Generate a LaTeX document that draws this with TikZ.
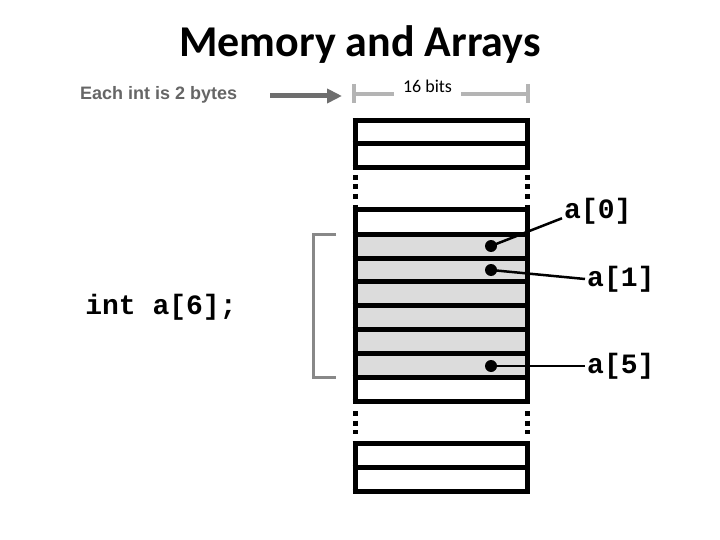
\documentclass[tikz,border=0pt]{standalone}
\usepackage{fontspec}
\setmainfont{Carlito}
\newfontfamily\codefont{Liberation Mono}
\newfontfamily\notefont{Liberation Sans}
\usetikzlibrary{positioning}
\usetikzlibrary{arrows.meta}
\definecolor{cellgray}{HTML}{DCDCDC}
\definecolor{notegray}{HTML}{666666}
\definecolor{arrowgray}{HTML}{6E6E6E}
\definecolor{dimgray}{HTML}{B4B4B4}
\definecolor{bracketgray}{HTML}{888888}

\begin{document}
\begin{tikzpicture}[
    x=1pt, y=-1pt,
    cell line/.style={line width=5pt},
    gap line/.style={line width=5pt, dash pattern=on 5pt off 4.5pt},
    code label/.style={font=\codefont\bfseries\fontsize{28}{30}\selectfont, inner sep=2pt},
    pointer dot/.style={circle, fill=black, inner sep=0pt, minimum size=12pt},
    pointer/.style={line width=2.5pt},
    dim line/.style={dimgray, line width=4pt}
  ]
  \useasboundingbox (0,0) rectangle (720,540);

  \node[anchor=base, font=\bfseries\fontsize{44}{48}\selectfont] (title) at (360,57) {Memory and Arrays};

  % size note and 16 bit width
  \node[anchor=base west, inner sep=0pt, text=notegray, font=\notefont\bfseries\fontsize{18}{20}\selectfont] (sizenote) at (80,100) {Each int is 2 bytes};
  \coordinate (bits left) at (354,94);
  \coordinate (bits right) at (527.5,94);
  \node[inner xsep=9pt, font=\fontsize{18}{20}\selectfont] (bits) at (427.5,86.5) {16 bits};
  \draw[dim line] (354,84) -- (354,103);
  \draw[dim line] (527.5,84) -- (527.5,103);
  \draw[dim line] (bits left) -- (bits.west |- bits left);
  \draw[dim line] (bits.east |- bits right) -- (bits right);
  \coordinate (arrow tail) at (270,96);
  \draw[arrowgray, line width=5pt, -{Triangle[length=15pt,width=14pt]}, shorten >=12pt] (arrow tail) -- (bits left |- arrow tail);

  % memory cells
  \fill[cellgray] (355,234.5) rectangle (527.5,377.5);
  \foreach \y in {120.5,143.5,167.5,209.5,234.5,258.5,281.5,305.5,329.5,353.5,377.5,401.5,443.5,467.5,491.5}
    \draw[cell line] (352.5,\y) -- (530,\y);
  \foreach \x in {355,527.5} {
    \draw[cell line] (\x,118) -- (\x,170);
    \draw[gap line] (\x,175) -- (\x,203);
    \draw[cell line] (\x,205) -- (\x,404);
    \draw[gap line] (\x,411) -- (\x,434);
    \draw[cell line] (\x,441) -- (\x,494);
  }

  % the array
  \draw[bracketgray, line width=3pt] (336,234) -- (313,234) -- (313,377.5) -- (336,377.5);
  \node[code label] (decl) at (161,307) {int a[6];};

  \node[pointer dot] (d0) at (491,246) {};
  \node[pointer dot] (d1) at (491,270) {};
  \node[pointer dot] (d5) at (491,366) {};

  \node[code label, anchor=west] (l0) at (562,211) {a[0]};
  \node[code label, anchor=west] (l1) at (585,279) {a[1]};
  \node[code label, anchor=west] (l5) at (585,366) {a[5]};

  \draw[pointer] (d0.center) -- (l0.base west);
  \draw[pointer] (d1.center) -- (l1.west);
  \draw[pointer] (d5.center) -- (l5.west);

\end{tikzpicture}
\end{document}
